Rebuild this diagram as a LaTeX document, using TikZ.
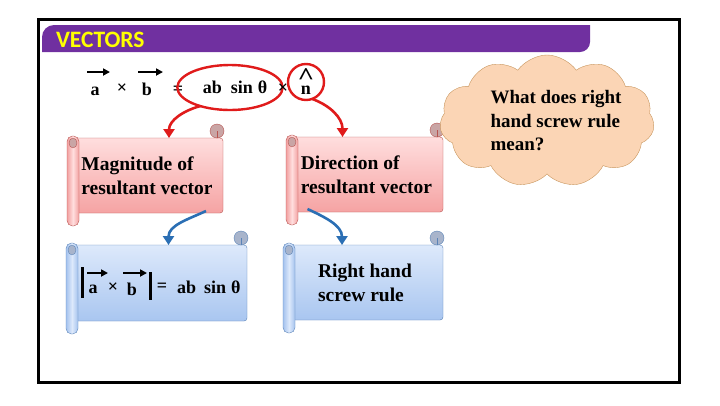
\documentclass[tikz,border=0pt]{standalone}
\usepackage{fontspec}
\usepackage{graphicx}
\setmainfont{Liberation Serif}
\newfontfamily\titlefont{Carlito}
\usetikzlibrary{shapes.geometric,shapes.symbols,arrows.meta,calc}
\definecolor{vpurple}{HTML}{7030A0}
\definecolor{vyellow}{HTML}{FFFF00}
\definecolor{pinktop}{HTML}{FFDEDE}
\definecolor{pinkbot}{HTML}{F5A3A3}
\definecolor{pinkroll}{HTML}{F2A0A0}
\definecolor{pinkline}{HTML}{B85450}
\definecolor{pinkcurl}{HTML}{C9A5A5}
\definecolor{bluetop}{HTML}{DDE9FB}
\definecolor{bluebot}{HTML}{A9C6F0}
\definecolor{blueroll}{HTML}{A4C2EE}
\definecolor{blueline}{HTML}{5B84B8}
\definecolor{bluecurl}{HTML}{A8B4CB}
\definecolor{cloudfill}{HTML}{FBD5B5}
\definecolor{cloudline}{HTML}{C8965E}
\definecolor{arrred}{HTML}{E01B1B}
\definecolor{arrblue}{HTML}{2B6FB4}
\tikzset{
 every node/.style={inner sep=0pt, outer sep=0pt},
 eqtext/.style={font=\fontsize{18}{22}\selectfont\bfseries, anchor=base},
 scrolltext/.style={font=\fontsize{19.5}{24}\selectfont\bfseries, align=left, inner sep=0pt},
 redarrow/.style={draw=arrred, line width=2.6pt, -{Triangle[width=11pt,length=9pt]}},
 bluearrow/.style={draw=arrblue, line width=2.6pt, -{Triangle[width=11pt,length=9pt]}},
 vecarrow/.style={draw=black, line width=2.2pt, -{Triangle[width=7pt,length=7pt]}},
 redring/.style={draw=arrred, line width=2.4pt},
}
% #1 xl, #2 yt, #3 xr, #4 yb, #5 scheme, #6 name, #7 text
\newcommand\myscroll[7]{%
 \pgfmathsetmacro\myW{#3-#1-12}%
 \pgfmathsetmacro\myH{#4-#2}%
 \pgfmathsetmacro\myX{(#1+12+#3)/2-4}%
 \pgfmathsetmacro\myY{-(#2+#4)/2}%
 \draw[draw=#5line, top color=#5top, bottom color=#5bot, rounded corners=3pt] (#1+6,-#2) rectangle (#3,-#4);
 \draw[draw=#5line, left color=#5roll, right color=#5roll, middle color=#5top, rounded corners=5.5pt] (#1,-#2+2) rectangle (#1+12,-#4-13);
 \draw[draw=#5line, fill=#5curl] (#1+6,-#2-5) ellipse[x radius=4, y radius=5];
 \draw[draw=#5line, fill=#5curl] (#3-6,-#2+7) circle[radius=7];
 \draw[draw=#5line] (#3-6,-#2+7) -- (#3-6,-#2+0.5);
 \node[scrolltext, minimum width=\myW pt, minimum height=\myH pt] (#6) at (\myX,\myY) {#7};
}
\begin{document}
\begin{tikzpicture}[x=1pt,y=1pt]
\useasboundingbox (0,0) rectangle (720,-405);
\fill[white] (0,0) rectangle (720,-405);
\draw[line width=3pt] (38,-19) rectangle (679,-382);
\fill[vpurple] (42,-52) -- (42,-37) arc[start angle=180,end angle=90,radius=12] -- (590,-25) -- (590,-42) arc[start angle=0,end angle=-90,radius=10] -- cycle;
\node[anchor=base west, text=vyellow, font=\titlefont\bfseries\fontsize{23.5}{26}\selectfont] (title) at (56,-47.5) {VECTORS};
% row 1
\node[eqtext] (a1) at (95,-95) {a};
\node[eqtext] (x1) at (122,-93) {×};
\node[eqtext] (b1) at (147,-95) {b};
\node[eqtext] (eq1) at (178,-94) {=};
\node[ellipse, redring, minimum width=80pt, minimum height=45pt, font=\fontsize{18}{22}\selectfont\bfseries] (e1) at (230,-87.5) {\hspace*{10pt}ab\hspace{9pt}sin\hspace{5pt}θ};
\node[eqtext] (x2) at (283,-93) {×};
\node[circle, redring, minimum size=36pt, text height=25pt, text depth=0pt, font=\fontsize{18}{22}\selectfont\bfseries] (nn) at (306,-82) {\ooalign{\hfil n\hfil\cr\hfil\raisebox{10.5pt}{\scalebox{1.6}[1.35]{\textasciicircum}}\hfil\cr}};
\draw[vecarrow] (87,-72) -- (110,-72);
\draw[vecarrow] (138,-72) -- (163,-72);
% scrolls
\myscroll{67}{138}{223}{213}{pink}{m1}{Magnitude of\\resultant vector}
\myscroll{286}{137}{443}{212}{pink}{d1}{Direction of\\resultant vector}
\myscroll{66}{245}{247}{321}{blue}{f1}{}
\myscroll{283}{245}{443}{320}{blue}{r1}{Right hand\\screw rule}
% formula in f1
\node[eqtext] (fa) at (93,-293) {a};
\node[eqtext] (fx) at (113,-292) {×};
\node[eqtext] (fb) at (132,-295) {b};
\node[eqtext] (feq) at (162,-291) {=};
\node[eqtext, anchor=base west] (fab) at (177,-293) {ab\hspace{8pt}sin\hspace{5pt}θ};
\draw[line width=3pt] (82,-267) -- (82,-298);
\draw[line width=3pt] (150,-272) -- (150,-300);
\draw[vecarrow] (87,-273) -- (108,-273);
\draw[vecarrow] (123,-273) -- (147,-273);
% arrows
\draw[redarrow] (e1.212) to[out=195,in=90] ([xshift=22pt]m1.north);
\draw[redarrow] (nn.290) to[out=-20,in=90] ([xshift=-24pt]d1.north);
\draw[bluearrow] ([xshift=59pt,yshift=2pt]m1.south) to[out=205,in=90] ([xshift=10pt]f1.north);
\draw[bluearrow] ([xshift=-59pt,yshift=3pt]d1.south) to[out=-25,in=90] ([xshift=-23pt]r1.north);
% cloud
\node[cloud, cloud puffs=11, cloud puff arc=110, cloud ignores aspect, draw=cloudline, fill=cloudfill, minimum width=212pt, minimum height=132pt, align=left, font=\fontsize{19}{23.5}\selectfont\bfseries] (q) at (547,-121) {\hspace*{18pt}What does right\\\hspace*{18pt}hand screw rule\\\hspace*{18pt}mean?};
\end{tikzpicture}
\end{document}
